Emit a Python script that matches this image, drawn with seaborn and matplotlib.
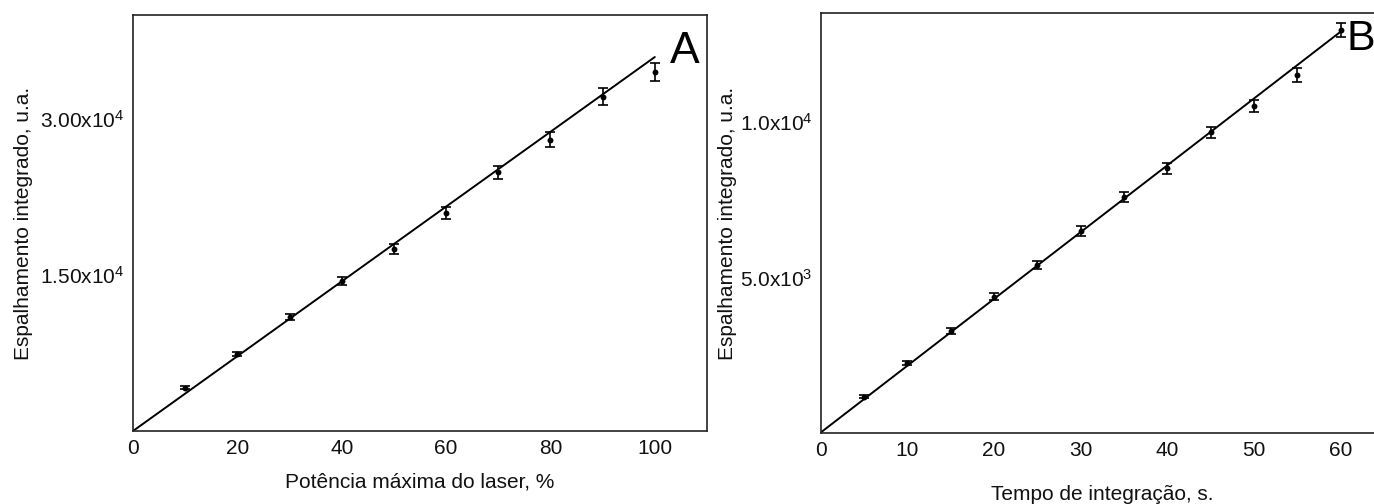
import matplotlib
matplotlib.use("Agg")
import matplotlib.pyplot as plt
import seaborn as sns
import pandas as pd

# ---- Panel A data ----
power_pct = [10, 20, 30, 40, 50, 60, 70, 80, 90, 100]
scatter_A = [4170, 7370, 10930, 14420, 17530, 20960, 24870, 28010, 32150, 34520]
err_A = [130, 180, 280, 380, 480, 580, 650, 740, 830, 900]
fit_x_A = [0, 100]
fit_y_A = [0, 35960]
xticks_A = [0, 20, 40, 60, 80, 100]
yticks_A = [15000, 30000]
yticklabels_A = [r"1.50x10$^{4}$", r"3.00x10$^{4}$"]

# ---- Panel B data ----
time_s = [5, 10, 15, 20, 25, 30, 35, 40, 45, 50, 55, 60]
scatter_B = [1160, 2250, 3270, 4380, 5400, 6490, 7580, 8510, 9670, 10520, 11520, 12960]
err_B = [45, 65, 85, 105, 140, 150, 160, 180, 180, 195, 225, 225]
fit_x_B = [0, 60]
fit_y_B = [0, 12910]
xticks_B = [0, 10, 20, 30, 40, 50, 60]
yticks_B = [5000, 10000]
yticklabels_B = [r"5.0x10$^{3}$", r"1.0x10$^{4}$"]

xlabel_A = "Potência máxima do laser, %"
xlabel_B = "Tempo de integração, s."
ylabel = "Espalhamento integrado, u.a."

sns.set_theme(style="white")
plt.rcParams["font.family"] = ["Liberation Sans", "DejaVu Sans"]
plt.rcParams["mathtext.fontset"] = "custom"
plt.rcParams["mathtext.rm"] = "Liberation Sans"
plt.rcParams["mathtext.it"] = "Liberation Sans:italic"
plt.rcParams["mathtext.bf"] = "Liberation Sans:bold"

W, H = 1374, 504
fig = plt.figure(figsize=(W / 100, H / 100), dpi=100)

def px_axes(left, top, right, bottom):
    return fig.add_axes([left / W, 1 - bottom / H, (right - left) / W, (bottom - top) / H])

axA = px_axes(133, 15, 707, 431)
axB = px_axes(820.5, 13.3, 820.5 + 65 * 8.67, 432.7)

FS = 15

def draw(ax, x, y, e, fx, fy, xlim, ylim, xt, yt, ytl, xl, xlabelpad, ylabelpad):
    dfp = pd.DataFrame({"x": x, "y": y})
    dff = pd.DataFrame({"x": fx, "y": fy})
    sns.lineplot(data=dff, x="x", y="y", ax=ax, color="black", linewidth=1.4)
    ax.errorbar(x, y, yerr=e, fmt="none", ecolor="black", elinewidth=1.2,
                capsize=3.6, capthick=1.2)
    sns.scatterplot(data=dfp, x="x", y="y", ax=ax, color="black", s=18,
                    edgecolor="black", linewidth=0, zorder=5)
    ax.set_xlim(*xlim)
    ax.set_ylim(*ylim)
    ax.set_xticks(xt)
    ax.set_xticklabels([str(v) for v in xt])
    ax.set_yticks(yt)
    ax.set_yticklabels(ytl)
    ax.tick_params(axis="both", direction="in", length=7, width=1.1,
                   labelsize=FS, color="black", labelcolor="#111111")
    ax.tick_params(axis="x", pad=6)
    ax.tick_params(axis="y", pad=6)
    ax.set_xlabel(xl, fontsize=FS, color="#111111", labelpad=xlabelpad)
    ax.set_ylabel(ylabel, fontsize=FS, color="#111111", labelpad=ylabelpad)
    for sp in ax.spines.values():
        sp.set_color("#222222")
        sp.set_linewidth(1.2)
    ax.set_facecolor("white")

draw(axA, power_pct, scatter_A, err_A, fit_x_A, fit_y_A, (0, 110), (0, 40000),
     xticks_A, yticks_A, yticklabels_A, xlabel_A, 10, 5)
draw(axB, time_s, scatter_B, err_B, fit_x_B, fit_y_B, (0, 65), (0, 13500),
     xticks_B, yticks_B, yticklabels_B, xlabel_B, 18, 2)

fig.text(670 / W, 1 - 63 / H, "A", fontsize=32, color="black", ha="left", va="baseline")
fig.text(1346 / W, 1 - 50 / H, "B", fontsize=31, color="black", ha="left", va="baseline")

fig.savefig("out.png", dpi=100, facecolor="white")
